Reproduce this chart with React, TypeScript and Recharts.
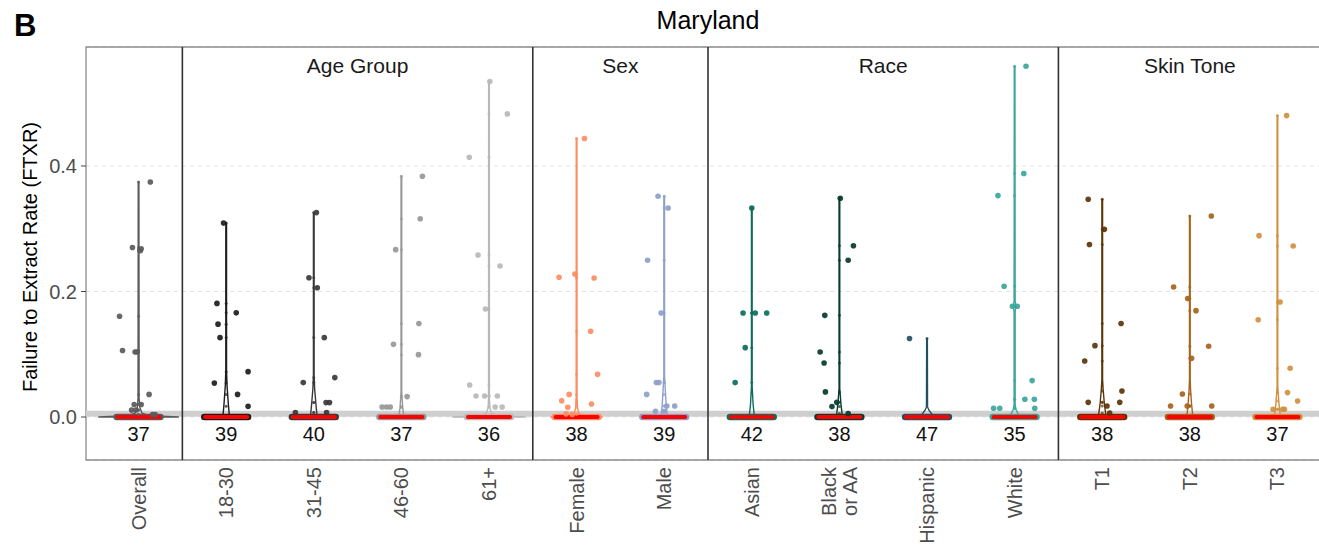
import React from 'react';
import { ComposedChart, Scatter, XAxis, YAxis, CartesianGrid, ReferenceLine, ReferenceArea, Label } from 'recharts';

// categories along the x axis, in facet order
const categories = ['Overall', '18-30', '31-45', '46-60', '61+', 'Female', 'Male', 'Asian', 'Black\nor AA', 'Hispanic', 'White', 'T1', 'T2', 'T3'];
const counts = [37, 39, 40, 37, 36, 38, 39, 42, 38, 47, 35, 38, 38, 37];
const colors = ['#5a5a5a', '#1c1c1c', '#383838', '#979797', '#b8b8b8', '#fc8d62', '#8da0cb', '#0d6b5e', '#073b2e', '#23505f', '#3ba69a', '#5a3407', '#a6631b', '#d09040'];

const facets = [
  { name: 'Age Group', from: 1, to: 4 },
  { name: 'Sex', from: 5, to: 6 },
  { name: 'Race', from: 7, to: 10 },
  { name: 'Skin Tone', from: 11, to: 13 },
];

// non-zero FTXR values, [jitter offset, value]
const overallPts = [[0.134, 0.3745], [-0.07, 0.27], [0.02, 0.265], [0.03, 0.268], [-0.217, 0.1605], [-0.183, 0.106], [-0.04, 0.1036], [-0.02, 0.1036], [0.12, 0.036], [-0.05, 0.02], [0.03, 0.02], [-0.08, 0.011], [-0.03, 0.011], [0.16, 0.004], [0.19, 0.004]];
const age1830Pts = [[-0.03, 0.309], [-0.105, 0.181], [0.115, 0.166], [-0.093, 0.148], [-0.07, 0.1265], [0.25, 0.0723], [-0.135, 0.054], [0.13, 0.036], [0.25, 0.017]];
const age3145Pts = [[0.03, 0.3257], [-0.055, 0.222], [0.04, 0.206], [0.12, 0.1265], [-0.12, 0.0548], [0.24, 0.0628], [0.14, 0.023], [0.18, 0.023], [-0.21, 0.007], [0.146, 0.007]];
const age4660Pts = [[0.24, 0.3836], [0.215, 0.316], [-0.065, 0.2667], [0.2, 0.149], [-0.09, 0.1158], [0.195, 0.0994], [0.065, 0.0325], [-0.22, 0.016], [-0.17, 0.016], [-0.127, 0.016]];
const age61Pts = [[0.01, 0.5345], [0.21, 0.483], [-0.225, 0.414], [-0.125, 0.258], [0.126, 0.2407], [-0.04, 0.172], [-0.22, 0.051], [-0.148, 0.0335], [-0.05, 0.0335], [0.095, 0.0335], [0.07, 0.016], [0.15, 0.016]];
const femalePts = [[0.09, 0.4437], [-0.2, 0.2226], [-0.02, 0.228], [0.2, 0.2216], [0.16, 0.1366], [0.24, 0.068], [-0.085, 0.036], [-0.17, 0.026], [-0.1, 0.0155], [0.17, 0.0207], [-0.12, 0.005], [-0.05, 0.004]];
const malePts = [[-0.07, 0.3517], [0.045, 0.333], [-0.19, 0.2497], [-0.035, 0.1658], [-0.09, 0.0548], [-0.06, 0.0548], [-0.2, 0.036], [0.03, 0.0175], [0.12, 0.0175], [-0.1, 0.009], [0, 0.009]];
const asianPts = [[0, 0.333], [-0.1, 0.1658], [0.04, 0.1658], [0.17, 0.1658], [-0.075, 0.1105], [-0.19, 0.0548]];
const blackPts = [[0.01, 0.3485], [0.16, 0.273], [0.1, 0.2497], [-0.167, 0.162], [-0.22, 0.1036], [-0.175, 0.086], [-0.16, 0.04], [-0.03, 0.0234], [-0.085, 0.0166], [0.1, 0.0054]];
const hispanicPts = [[-0.2, 0.125]];
const whitePts = [[0.13, 0.5589], [0.105, 0.388], [-0.19, 0.3528], [-0.12, 0.2083], [-0.025, 0.1764], [0.03, 0.1764], [0.2, 0.058], [0.117, 0.0282], [0.225, 0.0282], [-0.24, 0.0139], [-0.17, 0.0139], [0.23, 0.0139]];
const t1Pts = [[-0.16, 0.347], [0.025, 0.299], [-0.146, 0.275], [0.215, 0.149], [-0.083, 0.1137], [-0.2, 0.0893], [0.225, 0.0415], [-0.16, 0.0234], [0.2, 0.0234], [0.055, 0.0175], [0.085, 0.0064]];
const t2Pts = [[0.245, 0.3203], [-0.185, 0.2072], [-0.025, 0.1887], [0.07, 0.1695], [0.215, 0.1127], [0.02, 0.0935], [-0.085, 0.0367], [-0.22, 0.0175], [-0.03, 0.0175], [0.25, 0.0175]];
const t3Pts = [[0.105, 0.4803], [-0.21, 0.289], [0.18, 0.2725], [0.03, 0.1833], [-0.22, 0.155], [0.145, 0.0776], [0.115, 0.0389], [0.23, 0.0255], [-0.05, 0.0123], [0.06, 0.0123], [0.08, 0.0123]];

// violin outlines, [value, half width]
const overallViolin = [[0, 0.46], [0.002, 0.12], [0.006, 0.04], [0.015, 0.015], [0.03, 0.006], [0.3745, 0.004]];
const age1830Violin = [[0, 0.038], [0.02, 0.025], [0.05, 0.01], [0.075, 0.004], [0.309, 0.004]];
const age3145Violin = [[0, 0.038], [0.02, 0.025], [0.045, 0.01], [0.067, 0.004], [0.3257, 0.004]];
const age4660Violin = [[0, 0.03], [0.015, 0.015], [0.04, 0.004], [0.3836, 0.004]];
const age61Violin = [[0, 0.42], [0.002, 0.1], [0.006, 0.03], [0.015, 0.01], [0.03, 0.005], [0.5345, 0.004]];
const femaleViolin = [[0, 0.3], [0.002, 0.08], [0.006, 0.025], [0.015, 0.01], [0.03, 0.005], [0.4437, 0.004]];
const maleViolin = [[0, 0.038], [0.02, 0.022], [0.05, 0.01], [0.065, 0.004], [0.3517, 0.004]];
const asianViolin = [[0, 0.03], [0.02, 0.015], [0.048, 0.004], [0.333, 0.004]];
const blackViolin = [[0, 0.035], [0.02, 0.018], [0.045, 0.004], [0.3485, 0.004]];
const hispanicViolin = [[0, 0.09], [0.004, 0.06], [0.01, 0.025], [0.016, 0.006], [0.125, 0.004]];
const whiteViolin = [[0, 0.075], [0.005, 0.04], [0.012, 0.015], [0.02, 0.006], [0.168, 0.006], [0.1764, 0.015], [0.185, 0.006], [0.5589, 0.004]];
const t1Violin = [[0, 0.045], [0.02, 0.025], [0.045, 0.01], [0.06, 0.004], [0.347, 0.004]];
const t2Violin = [[0, 0.035], [0.02, 0.02], [0.045, 0.008], [0.06, 0.004], [0.3203, 0.004]];
const t3Violin = [[0, 0.035], [0.02, 0.018], [0.04, 0.008], [0.05, 0.004], [0.4803, 0.004]];

const pointSets = [overallPts, age1830Pts, age3145Pts, age4660Pts, age61Pts, femalePts, malePts, asianPts, blackPts, hispanicPts, whitePts, t1Pts, t2Pts, t3Pts];
const violinSets = [overallViolin, age1830Violin, age3145Violin, age4660Violin, age61Violin, femaleViolin, maleViolin, asianViolin, blackViolin, hispanicViolin, whiteViolin, t1Violin, t2Violin, t3Violin];

const yTicks = [0, 0.2, 0.4];
const Y_MIN = -0.0685;
const Y_MAX = 0.5896;
const X_MIN = -0.6;
const X_MAX = 13.6;
const ZERO_JITTER = 0.25;
const BAND_Y = 0.005;
const COUNT_Y = -0.0274;
const STRIP_Y = 0.5597;

const FONT = '"Liberation Sans", Arial, sans-serif';
const none = () => <g />;

const violinOutline = (i: number, profile: number[][]) => {
  const right = profile.map(([v, w]) => ({ x: i + w, y: v }));
  const left = profile.slice().reverse().map(([v, w]) => ({ x: i - w, y: v }));
  return [...right, ...left, right[0]];
};

const XTick = ({ x, y, payload }: any) => {
  const lines = categories[payload.value].split('\n');
  const lh = 21;
  return (
    <g transform={`translate(${x},${y - 1})`}>
      <text transform="rotate(-90)" textAnchor="end" fontSize={20} fill="#4d4d4d" fontFamily={FONT}>
        {lines.map((l, k) => (
          <tspan key={k} x={0} dy={k === 0 ? 7 - ((lines.length - 1) * lh) / 2 : lh}>{l}</tspan>
        ))}
      </text>
    </g>
  );
};

export default function App() {
  return (
    <div style={{ position: 'absolute', left: 0, top: 0, width: 1319, height: 545, overflow: 'hidden', background: '#fff' }}>
      <ComposedChart width={1330} height={545} margin={{ top: 47, right: 0, bottom: 0, left: 0 }}>
        <CartesianGrid horizontal vertical={false} stroke="#e3e3e3" strokeDasharray="4 4" />
        <XAxis type="number" dataKey="x" domain={[X_MIN, X_MAX]} allowDataOverflow ticks={categories.map((_, i) => i)}
          interval={0} height={85} axisLine={false} tickLine={false} tick={<XTick />} />
        <YAxis type="number" dataKey="y" domain={[Y_MIN, Y_MAX]} allowDataOverflow ticks={yTicks} width={86}
          tickFormatter={(v: number) => v.toFixed(1)} axisLine={false} tickSize={5} tickMargin={4}
          tickLine={{ stroke: '#444' }} tick={{ fontSize: 20, fill: '#4d4d4d', fontFamily: FONT }}>
          <Label content={() => (
            <text x={30} y={257} transform="rotate(-90 30 257)" textAnchor="middle" dominantBaseline="central" fontSize={20} fill="#000" fontFamily={FONT}>
              Failure to Extract Rate (FTXR)
            </text>
          )} />
        </YAxis>
        <ReferenceLine y={BAND_Y} stroke="#cfcfcf" strokeWidth={6} />

        {violinSets.map((profile, i) => (
          <Scatter key={`v${i}`} data={violinOutline(i, profile)} isAnimationActive={false} shape={none}
            line={{ stroke: colors[i], strokeWidth: 1.4 }} lineJointType="linear" />
        ))}

        {categories.map((_, i) => (
          <Scatter key={`zc${i}`} data={[{ x: i - ZERO_JITTER, y: 0 }, { x: i + ZERO_JITTER, y: 0 }]} isAnimationActive={false}
            shape={none} line={{ stroke: colors[i], strokeWidth: 6.5, strokeLinecap: 'round' }} />
        ))}
        {categories.map((_, i) => (
          <Scatter key={`zr${i}`} data={[{ x: i - ZERO_JITTER + 0.01, y: 0 }, { x: i + ZERO_JITTER - 0.01, y: 0 }]} isAnimationActive={false}
            shape={none} line={{ stroke: '#ff0000', strokeWidth: 4, strokeLinecap: 'round' }} />
        ))}

        {pointSets.map((pts, i) => (
          <Scatter key={`c${i}`} data={pts.map(([, v]) => ({ x: i, y: v }))} isAnimationActive={false}
            shape={(p: any) => <circle cx={p.cx} cy={p.cy} r={1.5} fill={colors[i]} fillOpacity={0.7} />} />
        ))}
        {pointSets.map((pts, i) => (
          <Scatter key={`p${i}`} data={pts.map(([o, v]) => ({ x: i + o, y: v }))} isAnimationActive={false}
            shape={(p: any) => <circle cx={p.cx} cy={p.cy} r={2.8} fill={colors[i]} fillOpacity={0.92} />} />
        ))}

        <Scatter data={counts.map((n, i) => ({ x: i, y: COUNT_Y, n }))} isAnimationActive={false}
          shape={(p: any) => (
            <text x={p.cx} y={p.cy} textAnchor="middle" dominantBaseline="central" fontSize={20} fill="#111" fontFamily={FONT}>
              {p.payload?.n ?? p.n}
            </text>
          )} />
        <Scatter data={facets.map((f) => ({ x: (f.from + f.to) / 2, y: STRIP_Y, name: f.name }))} isAnimationActive={false}
          shape={(p: any) => (
            <text x={p.cx} y={p.cy} textAnchor="middle" dominantBaseline="central" fontSize={21} fill="#1a1a1a" fontFamily={FONT}>
              {p.payload?.name ?? p.name}
            </text>
          )} />

        {facets.map((f) => (
          <ReferenceLine key={f.name} x={f.from - 0.5} stroke="#333" strokeWidth={1.6} />
        ))}
        <ReferenceArea x1={X_MIN} x2={X_MAX} y1={Y_MIN} y2={Y_MAX} fill="none" stroke="#8c8c8c" strokeWidth={1.3} />
      </ComposedChart>
      <svg width={1319} height={47} style={{ position: 'absolute', left: 0, top: 0 }}>
        <text x={14} y={36} fontSize={31} fontWeight="bold" fill="#000" fontFamily={FONT}>B</text>
        <text x={708} y={29} textAnchor="middle" fontSize={25} fill="#000" fontFamily={FONT}>Maryland</text>
      </svg>
    </div>
  );
}
